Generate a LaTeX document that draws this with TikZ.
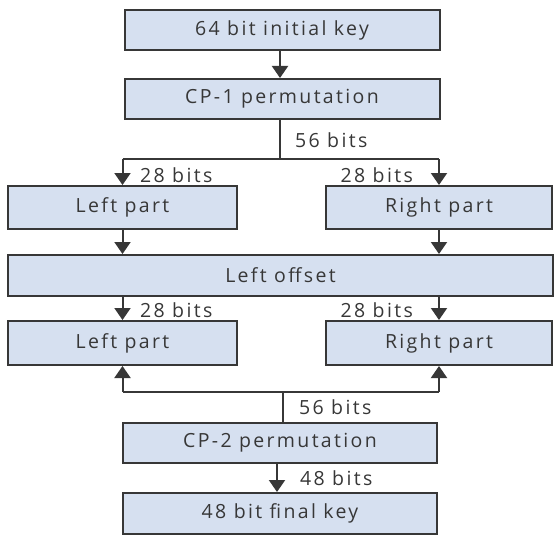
\documentclass[tikz,border=0pt]{standalone}
\usepackage{fontspec}
\setmainfont{Open Sans}[LetterSpace=12]
\usepackage{tikz}
\usetikzlibrary{arrows.meta}
\definecolor{boxblue}{RGB}{214,224,240}
\definecolor{edgegray}{RGB}{55,55,55}

\begin{document}
\begin{tikzpicture}[x=1pt,y=-1pt,
    blok/.style={draw=edgegray,line width=2pt,fill=boxblue,inner sep=0pt,
      text=edgegray,font=\fontsize{19.5}{21}\selectfont},
    pijl/.style={draw=edgegray,line width=2pt,-{Triangle[width=16pt,length=12pt]}},
    lijn/.style={draw=edgegray,line width=2pt},
    bits/.style={text=edgegray,inner sep=0pt,font=\fontsize{19.5}{21}\selectfont}]
    \useasboundingbox (0,0) rectangle (554,535);

    % Key schedule boxes
    \node[blok,minimum width=315pt,minimum height=40pt] (key) at (282,30) {64 bit initial key};
    \node[blok,minimum width=315pt,minimum height=40pt] (cp1) at (282,99) {CP-1 permutation};
    \node[blok,minimum width=229pt,minimum height=43pt] (lp1) at (122.5,207.5) {Left part};
    \node[blok,minimum width=226pt,minimum height=43pt] (rp1) at (439,207.5) {Right part};
    \node[blok,minimum width=545pt,minimum height=41pt] (shift) at (280.5,275.5) {Left offset};
    \node[blok,minimum width=229pt,minimum height=44pt] (lp2) at (122.5,343) {Left part};
    \node[blok,minimum width=226pt,minimum height=44pt] (rp2) at (439,343) {Right part};
    \node[blok,minimum width=314pt,minimum height=40pt] (cp2) at (280,443) {CP-2 permutation};
    \node[blok,minimum width=314pt,minimum height=41pt] (final) at (280,513.5) {48 bit final key};

    \coordinate (split1) at (280,159); % 56 bits split
    \coordinate (join2) at (283,392); % 56 bits joined

    % 64 -> CP-1
    \draw[pijl] (key.south -| split1) -- (cp1.north -| split1);
    % CP-1 -> halves
    \draw[lijn] (cp1.south -| split1) -- (split1);
    \draw[lijn] (lp1.north |- split1) -- (rp1.north |- split1);
    \draw[pijl] (lp1.north |- split1) -- (lp1.north);
    \draw[pijl] (rp1.north |- split1) -- (rp1.north);
    % halves -> offset
    \draw[pijl] (lp1.south) -- (shift.north -| lp1);
    \draw[pijl] (rp1.south) -- (shift.north -| rp1);
    % offset -> halves
    \draw[pijl] (shift.south -| lp2) -- (lp2.north);
    \draw[pijl] (shift.south -| rp2) -- (rp2.north);
    % CP-2 -> halves (upwards)
    \draw[lijn] (cp2.north -| join2) -- (join2);
    \draw[lijn] (lp2.south |- join2) -- (rp2.south |- join2);
    \draw[pijl] (lp2.south |- join2) -- (lp2.south);
    \draw[pijl] (rp2.south |- join2) -- (rp2.south);
    % CP-2 -> final key
    \draw[pijl] (cp2.south -| 277,0) -- (final.north -| 277,0);

    % Bit widths
    \node[bits,anchor=west] (b56a) at (295,140) {56 bits};
    \node[bits,anchor=west] (b28a) at (140,175) {28 bits};
    \node[bits,anchor=east] (b28b) at (413,175) {28 bits};
    \node[bits,anchor=west] (b28c) at (140,310) {28 bits};
    \node[bits,anchor=east] (b28d) at (413,310) {28 bits};
    \node[bits,anchor=west] (b56b) at (299,407) {56 bits};
    \node[bits,anchor=west] (b48) at (300,478) {48 bits};
\end{tikzpicture}
\end{document}
